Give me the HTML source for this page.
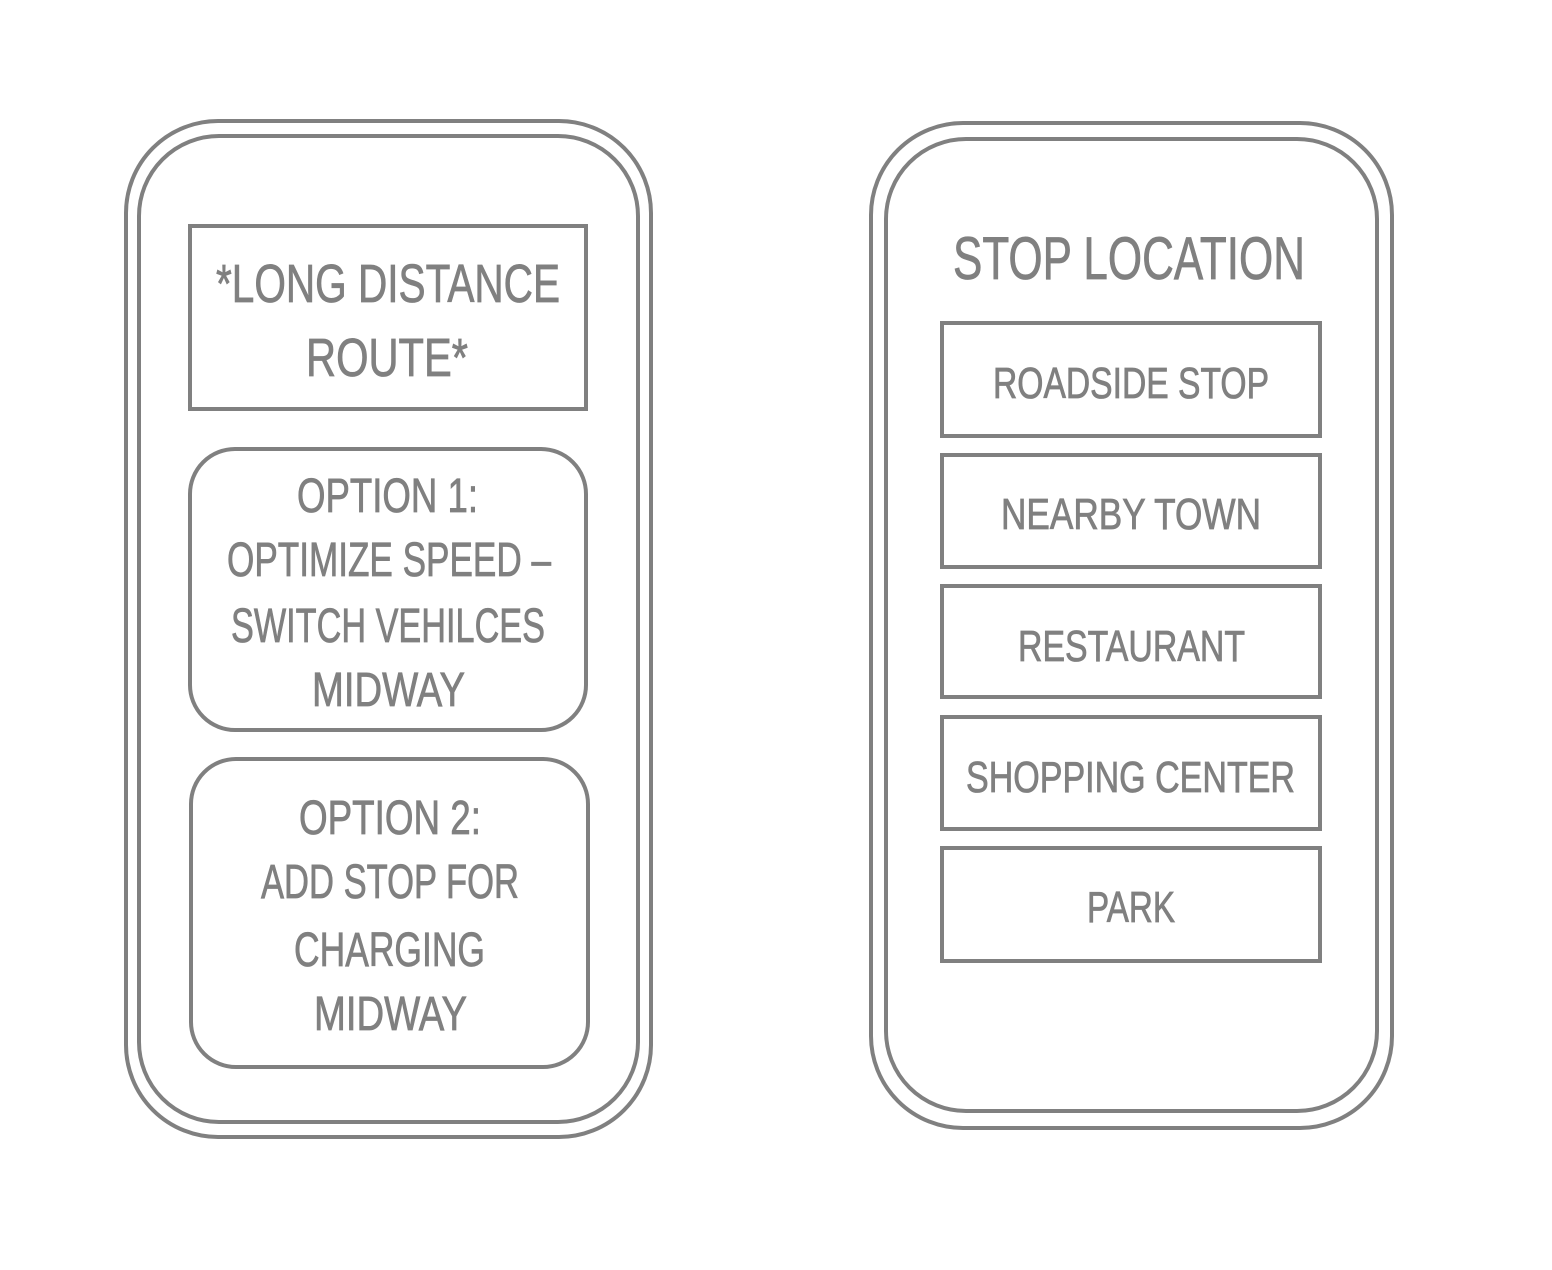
<!DOCTYPE html>
<html><head><meta charset="utf-8"><style>html,body{margin:0;padding:0;background:#fff}svg{display:block}</style></head>
<body>
<svg width="1552" height="1270" viewBox="0 0 1552 1270" xmlns="http://www.w3.org/2000/svg">
<g fill="none" stroke="#808080" stroke-width="4">
<rect x="126" y="121" width="525" height="1016" rx="92"/>
<rect x="139" y="136" width="499" height="986" rx="80"/>
<rect x="871" y="123" width="521" height="1005" rx="92"/>
<rect x="886" y="139" width="491" height="972" rx="80"/>
<rect x="190" y="226" width="396" height="183"/>
<rect x="190" y="449" width="396" height="281" rx="45"/>
<rect x="191" y="759" width="397" height="308" rx="45"/>
<rect x="942" y="323" width="378" height="113"/>
<rect x="942" y="455" width="378" height="112"/>
<rect x="942" y="586" width="378" height="111"/>
<rect x="942" y="717" width="378" height="112"/>
<rect x="942" y="848" width="378" height="113"/>
</g>
<g fill="#808080" stroke="#808080" stroke-width="0.8" font-family="Liberation Sans, sans-serif">
<text x="216" y="302" font-size="54" textLength="344" lengthAdjust="spacingAndGlyphs">*LONG DISTANCE</text>
<text x="306" y="376" font-size="54" textLength="162" lengthAdjust="spacingAndGlyphs">ROUTE*</text>
<text x="297" y="512" font-size="48" textLength="181" lengthAdjust="spacingAndGlyphs">OPTION 1:</text>
<text x="227" y="576" font-size="48" textLength="324" lengthAdjust="spacingAndGlyphs">OPTIMIZE SPEED –</text>
<text x="231" y="642" font-size="48" textLength="314" lengthAdjust="spacingAndGlyphs">SWITCH VEHILCES</text>
<text x="312" y="706" font-size="48" textLength="153" lengthAdjust="spacingAndGlyphs">MIDWAY</text>
<text x="299" y="834" font-size="48" textLength="182" lengthAdjust="spacingAndGlyphs">OPTION 2:</text>
<text x="261" y="898" font-size="48" textLength="258" lengthAdjust="spacingAndGlyphs">ADD STOP FOR</text>
<text x="294" y="966" font-size="48" textLength="191" lengthAdjust="spacingAndGlyphs">CHARGING</text>
<text x="314" y="1030" font-size="48" textLength="153" lengthAdjust="spacingAndGlyphs">MIDWAY</text>
<text x="953" y="279" font-size="60" textLength="352" lengthAdjust="spacingAndGlyphs">STOP LOCATION</text>
<text x="993" y="398" font-size="44" textLength="276" lengthAdjust="spacingAndGlyphs">ROADSIDE STOP</text>
<text x="1001" y="529" font-size="44" textLength="260" lengthAdjust="spacingAndGlyphs">NEARBY TOWN</text>
<text x="1018" y="661" font-size="44" textLength="227" lengthAdjust="spacingAndGlyphs">RESTAURANT</text>
<text x="966" y="792" font-size="44" textLength="329" lengthAdjust="spacingAndGlyphs">SHOPPING CENTER</text>
<text x="1087" y="922" font-size="44" textLength="88" lengthAdjust="spacingAndGlyphs">PARK</text>
</g>
</svg>
</body></html>
